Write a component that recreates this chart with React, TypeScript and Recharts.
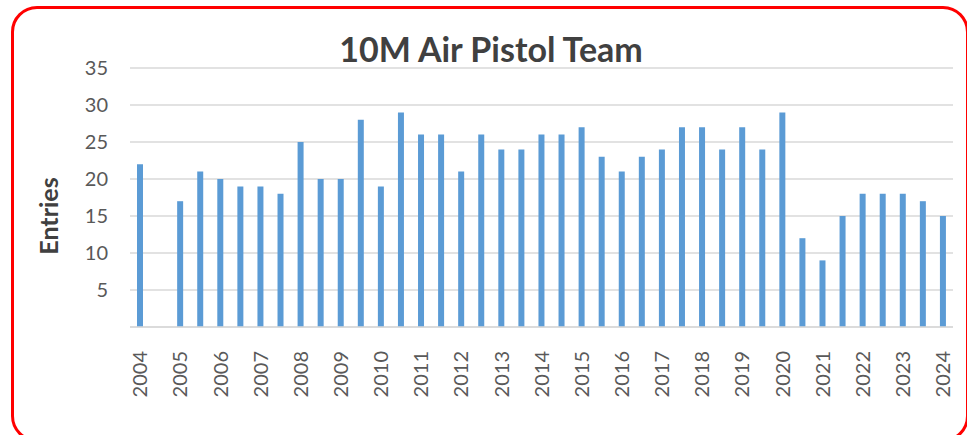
import { BarChart, Bar, XAxis, YAxis, CartesianGrid } from "recharts";

// two entries per year; the second slot of each year has no label
const slots = [
  "2004", "2004b", "2005", "2005b", "2006", "2006b", "2007", "2007b",
  "2008", "2008b", "2009", "2009b", "2010", "2010b", "2011", "2011b",
  "2012", "2012b", "2013", "2013b", "2014", "2014b", "2015", "2015b",
  "2016", "2016b", "2017", "2017b", "2018", "2018b", "2019", "2019b",
  "2020", "2020b", "2021", "2021b", "2022", "2022b", "2023", "2023b",
  "2024",
];

const entries = [
  22, null, 17, 21, 20, 19, 19, 18, 25, 20, 20, 28, 19, 29, 26, 26,
  21, 26, 24, 24, 26, 26, 27, 23, 21, 23, 24, 27, 27, 24, 27, 24,
  29, 12, 9, 15, 18, 18, 18, 17, 15,
];

const yTicks = [5, 10, 15, 20, 25, 30, 35];

const data = slots.map((s, i) => ({ slot: s, entries: entries[i] }));

const FONT = "Lato, 'Open Sans', sans-serif";

function YearTick({ x, y, payload }: any) {
  const v: string = payload.value;
  if (v.endsWith("b")) return null;
  return (
    <g transform={`translate(${x},${y + 16})`}>
      <text
        transform="rotate(-90)"
        textAnchor="end"
        dy="0.36em"
        fontSize={20}
        fill="#595959"
        fontFamily={FONT}
      >
        {v}
      </text>
    </g>
  );
}

export default function App() {
  return (
    <div style={{ position: "relative", width: 967, height: 435, overflow: "hidden", background: "#fff" }}>
      <style>{`body{margin:0}`}</style>
      <div
        style={{
          position: "absolute",
          left: 11,
          top: 6,
          width: 952,
          height: 430,
          border: "3px solid #ff0000",
          borderRadius: 26,
        }}
      />
      <div
        style={{
          position: "absolute",
          left: 0,
          width: 982,
          top: 29,
          textAlign: "center",
          fontFamily: FONT,
          fontWeight: 700,
          fontSize: 34,
          color: "#404040",
          lineHeight: "40px",
        }}
      >
        10M Air Pistol Team
      </div>
      <div
        style={{
          position: "absolute",
          left: 48,
          top: 216,
          transform: "translate(-50%,-50%) rotate(-90deg)",
          fontFamily: FONT,
          fontWeight: 700,
          fontSize: 25,
          color: "#404040",
          whiteSpace: "nowrap",
        }}
      >
        Entries
      </div>
      <div style={{ position: "absolute", left: 0, top: 0 }}>
        <BarChart
          width={967}
          height={435}
          data={data}
          margin={{ top: 68, right: 14, left: 0, bottom: 0 }}
        >
          <CartesianGrid vertical={false} stroke="#d9d9d9" strokeWidth={1.5} />
          <XAxis
            dataKey="slot"
            interval={0}
            tick={<YearTick />}
            tickLine={false}
            axisLine={{ stroke: "#d9d9d9", strokeWidth: 1.5 }}
            height={108}
          />
          <YAxis
            width={130}
            domain={[0, 35]}
            ticks={yTicks}
            interval={0}
            tickLine={false}
            axisLine={false}
            tickSize={0}
            tickMargin={22}
            tick={{ fontSize: 20, fill: "#595959", fontFamily: FONT }}
          />
          <Bar dataKey="entries" fill="#5b9bd5" barSize={6} isAnimationActive={false} />
        </BarChart>
      </div>
    </div>
  );
}
